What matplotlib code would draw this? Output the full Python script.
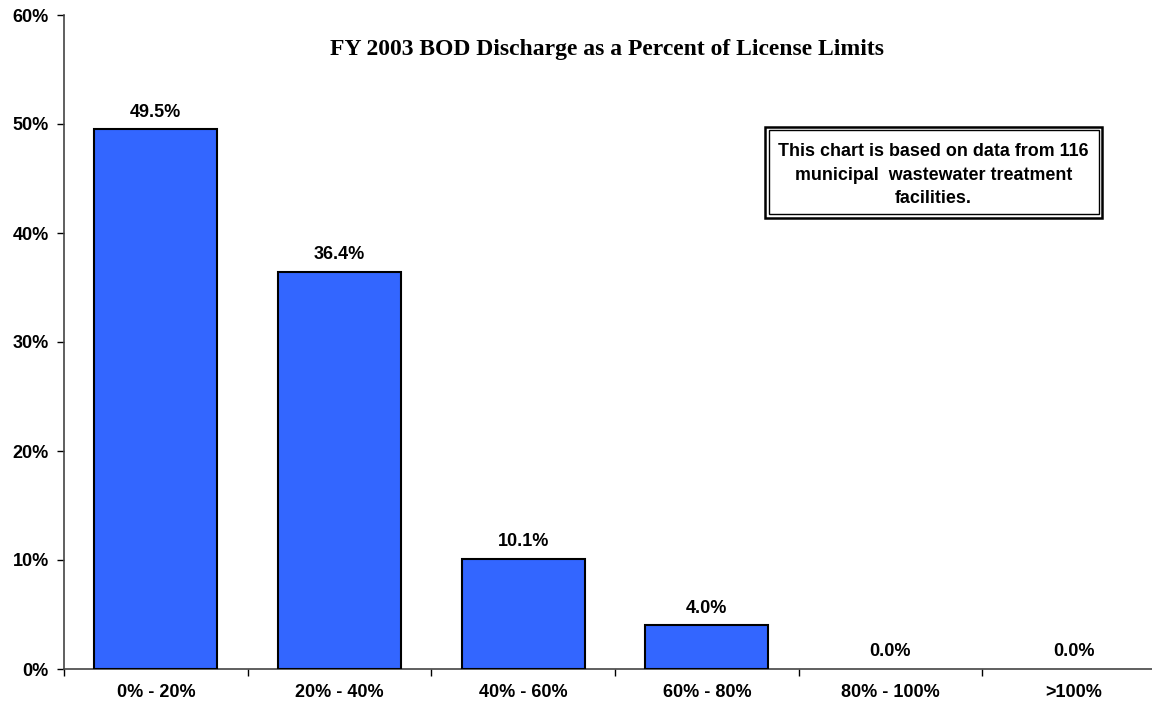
import matplotlib
matplotlib.use("Agg")
import matplotlib.pyplot as plt
from matplotlib.patches import Rectangle
from matplotlib.ticker import PercentFormatter

categories = ["0% - 20%", "20% - 40%", "40% - 60%", "60% - 80%", "80% - 100%", ">100%"]
values = [49.5, 36.4, 10.1, 4.0, 0.0, 0.0]

title = "FY 2003 BOD Discharge as a Percent of License Limits"
note = "This chart is based on data from 116\nmunicipal  wastewater treatment\nfacilities."

plt.rcParams['font.family'] = ['Liberation Sans', 'DejaVu Sans']

W, H = 1152, 705
fig = plt.figure(figsize=(W / 100, H / 100), dpi=100)
ax = fig.add_axes([64 / W, 36 / H, (1166 - 64) / W, 654 / H])

x = range(len(categories))
# empty bins show no outline
edge_w = [1.5 if v > 0 else 0 for v in values]
ax.bar(x, values, width=0.67, color="#3366FF", edgecolor="black", linewidth=edge_w, zorder=3)

for xi, v in zip(x, values):
    ax.annotate(f"{v:.1f}%", (xi, v), xytext=(0, 12.5), textcoords="offset points",
                ha="center", va="center", fontsize=13, fontweight="bold")

ax.set_xlim(-0.5, len(categories) - 0.5)
ax.set_ylim(0, 60)
ax.set_yticks(range(0, 61, 10))
ax.yaxis.set_major_formatter(PercentFormatter(decimals=0))
ax.set_xticks(x)
ax.set_xticklabels(categories)
ax.set_xticks([i - 0.5 for i in range(len(categories) + 1)], minor=True)
ax.tick_params(axis="x", which="major", length=0, pad=11)
ax.tick_params(axis="x", which="minor", length=5, direction="out", width=1)
ax.tick_params(axis="y", length=5, width=1, direction="out", pad=6)
for lab in ax.get_xticklabels() + ax.get_yticklabels():
    lab.set_fontsize(13)
    lab.set_fontweight("bold")

for s in ["top", "right"]:
    ax.spines[s].set_visible(False)
for s in ["left", "bottom"]:
    ax.spines[s].set_color("#444444")
    ax.spines[s].set_linewidth(1.2)

fig.text(607 / W, 1 - 50 / H, title, ha="center", va="center",
         fontsize=17, fontweight="bold", family="Liberation Serif")

# double-bordered note box
x0, y0, x1, y1 = 765, 127, 1102, 218
fig.patches.append(Rectangle((x0 / W, 1 - y1 / H), (x1 - x0) / W, (y1 - y0) / H,
                             transform=fig.transFigure, fill=False, ec="black", lw=1.8))
d = 3.5
fig.patches.append(Rectangle(((x0 + d) / W, 1 - (y1 - d) / H), (x1 - x0 - 2 * d) / W,
                             (y1 - y0 - 2 * d) / H, transform=fig.transFigure,
                             fill=False, ec="black", lw=1.0))
fig.text((x0 + x1) / 2 / W, 1 - 175 / H, note, ha="center", va="center",
         fontsize=12.9, fontweight="bold", linespacing=1.5)

fig.savefig("out.png", dpi=100)
